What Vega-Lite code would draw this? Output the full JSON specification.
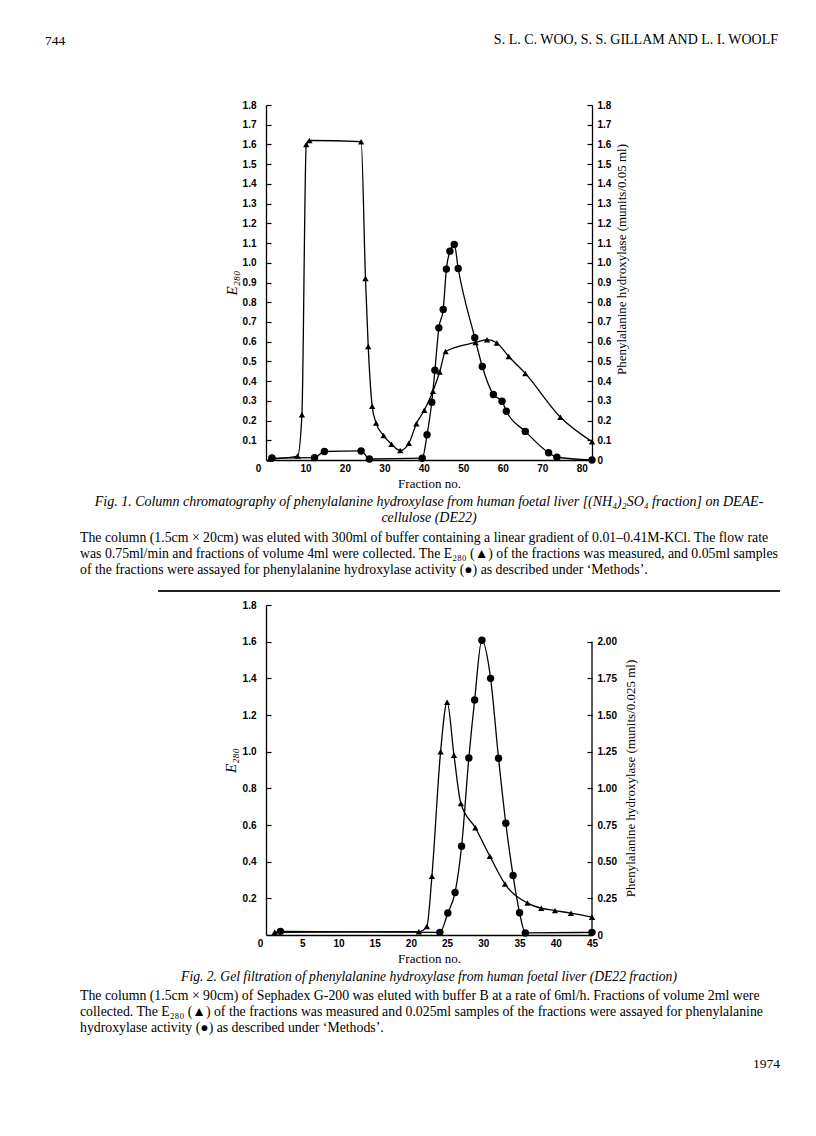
{
  "$schema": "https://vega.github.io/schema/vega-lite/v6.json",
  "background": "white",
  "padding": {"left": 45, "top": 33, "right": 10, "bottom": 10},
  "autosize": {"type": "pad"},
  "title": {"text": "744", "anchor": "start", "frame": "group", "dx": -221, "dy": 14, "offset": 0, "fontSize": 13.5, "baseline": "top"},
  "datasets": {
    "f1e": [
      {"fraction": 1, "e280": 0.005},
      {"fraction": 8, "e280": 0.02},
      {"fraction": 9.1, "e280": 0.23},
      {"fraction": 10.2, "e280": 1.6},
      {"fraction": 11, "e280": 1.62},
      {"fraction": 24.1, "e280": 1.614},
      {"fraction": 25.2, "e280": 0.92},
      {"fraction": 25.9, "e280": 0.576},
      {"fraction": 26.9, "e280": 0.273},
      {"fraction": 27.9, "e280": 0.187},
      {"fraction": 29.8, "e280": 0.124},
      {"fraction": 31.8, "e280": 0.08},
      {"fraction": 34, "e280": 0.048},
      {"fraction": 36.2, "e280": 0.085},
      {"fraction": 38.1, "e280": 0.184},
      {"fraction": 40.1, "e280": 0.252},
      {"fraction": 42.3, "e280": 0.349},
      {"fraction": 44, "e280": 0.446},
      {"fraction": 45.5, "e280": 0.55},
      {"fraction": 53.1, "e280": 0.596},
      {"fraction": 56, "e280": 0.61},
      {"fraction": 58.5, "e280": 0.593},
      {"fraction": 61.5, "e280": 0.525},
      {"fraction": 65.7, "e280": 0.439},
      {"fraction": 74.6, "e280": 0.217},
      {"fraction": 82.6, "e280": 0.093}
    ],
    "f1a": [
      {"fraction": 1.5, "activity": 0.01},
      {"fraction": 12.3, "activity": 0.012},
      {"fraction": 14.8, "activity": 0.043},
      {"fraction": 24.1, "activity": 0.046},
      {"fraction": 26.2, "activity": 0.005},
      {"fraction": 39.6, "activity": 0.009},
      {"fraction": 40.8, "activity": 0.128},
      {"fraction": 42, "activity": 0.293},
      {"fraction": 42.8, "activity": 0.455},
      {"fraction": 43.8, "activity": 0.67},
      {"fraction": 44.9, "activity": 0.763},
      {"fraction": 45.7, "activity": 0.968},
      {"fraction": 46.6, "activity": 1.059},
      {"fraction": 47.7, "activity": 1.093},
      {"fraction": 48.7, "activity": 0.971},
      {"fraction": 52.9, "activity": 0.62},
      {"fraction": 54.8, "activity": 0.474},
      {"fraction": 57.6, "activity": 0.332},
      {"fraction": 59.8, "activity": 0.298},
      {"fraction": 60.9, "activity": 0.247},
      {"fraction": 65.7, "activity": 0.145},
      {"fraction": 71.6, "activity": 0.037},
      {"fraction": 73.7, "activity": 0.014},
      {"fraction": 82.6, "activity": 0.0}
    ],
    "f2e": [
      {"fraction": 1.2, "e280": 0.015},
      {"fraction": 21.1, "e280": 0.018},
      {"fraction": 22.2, "e280": 0.046},
      {"fraction": 22.9, "e280": 0.32},
      {"fraction": 24.1, "e280": 1.0},
      {"fraction": 25, "e280": 1.27},
      {"fraction": 25.95, "e280": 0.98},
      {"fraction": 26.9, "e280": 0.717},
      {"fraction": 28.9, "e280": 0.585},
      {"fraction": 30.9, "e280": 0.43},
      {"fraction": 33, "e280": 0.278},
      {"fraction": 36.1, "e280": 0.174},
      {"fraction": 38, "e280": 0.146},
      {"fraction": 39.9, "e280": 0.133},
      {"fraction": 42.1, "e280": 0.119},
      {"fraction": 45, "e280": 0.097}
    ],
    "f2a": [
      {"fraction": 2, "activity": 0.025},
      {"fraction": 24, "activity": 0.018},
      {"fraction": 25.1, "activity": 0.15},
      {"fraction": 26.1, "activity": 0.29},
      {"fraction": 27, "activity": 0.605},
      {"fraction": 28, "activity": 1.207},
      {"fraction": 28.8, "activity": 1.602},
      {"fraction": 29.8, "activity": 2.01},
      {"fraction": 31, "activity": 1.75},
      {"fraction": 32.1, "activity": 1.205},
      {"fraction": 33.1, "activity": 0.762},
      {"fraction": 34.1, "activity": 0.406},
      {"fraction": 35, "activity": 0.152},
      {"fraction": 35.8, "activity": 0.014},
      {"fraction": 45, "activity": 0.018}
    ]
  },
  "spacing": 14,
  "bounds": "flush",
  "vconcat": [
    {
      "width": 326, "height": 0,
      "data": {"values": []},
      "mark": "point",
      "title": {"text": "S. L. C. WOO, S. S. GILLAM AND L. I. WOOLF", "anchor": "end", "frame": "group", "dx": 186, "offset": 24, "fontSize": 14, "baseline": "top"}
    },
    {
      "width": 326, "height": 355,
      "title": {"text": ["Fig. 1. Column chromatography of phenylalanine hydroxylase from human foetal liver [(NH₄)₂SO₄ fraction] on DEAE-", "cellulose (DE22)"], "orient": "bottom", "anchor": "middle", "frame": "group", "offset": 5, "fontStyle": "italic", "fontSize": 14, "lineHeight": 16, "baseline": "top"},
      "layer": [
        {
          "data": {"name": "f1e"},
          "mark": {"type": "line", "interpolate": "monotone", "color": "black", "strokeWidth": 1.3, "point": {"shape": "triangle-up", "filled": true, "size": 40, "color": "black"}},
          "encoding": {
            "x": {"field": "fraction", "type": "quantitative", "scale": {"domain": [0, 82.6], "nice": false, "zero": false},
              "axis": {"values": [0, 10, 20, 30, 40, 50, 60, 70, 80], "ticks": false, "labelPadding": 3, "title": "Fraction no.", "titlePadding": 4, "labelOffset": {"condition": {"test": "datum.value === 0", "value": -8}, "value": 0}}},
            "y": {"field": "e280", "type": "quantitative", "scale": {"domain": [0, 1.8], "nice": false},
              "axis": {"orient": "left", "values": [0.1, 0.2, 0.3, 0.4, 0.5, 0.6, 0.7, 0.8, 0.9, 1.0, 1.1, 1.2, 1.3, 1.4, 1.5, 1.6, 1.7, 1.8], "format": ".1f", "tickSize": -5, "labelPadding": 15, "title": "E₂₈₀", "titleFontStyle": "italic", "titleFontSize": 15, "titlePadding": 3}}
          }
        },
        {
          "data": {"name": "f1a"},
          "mark": {"type": "line", "interpolate": "monotone", "color": "black", "strokeWidth": 1.3, "point": {"shape": "circle", "filled": true, "size": 55, "color": "black", "opacity": 1}},
          "encoding": {
            "x": {"field": "fraction", "type": "quantitative", "scale": {"domain": [0, 82.6], "nice": false, "zero": false},
              "axis": {"values": [0, 10, 20, 30, 40, 50, 60, 70, 80], "ticks": false, "labelPadding": 3, "title": "Fraction no.", "titlePadding": 4, "labelOffset": {"condition": {"test": "datum.value === 0", "value": -8}, "value": 0}}},
            "y": {"field": "activity", "type": "quantitative", "scale": {"domain": [0, 1.8], "nice": false},
              "axis": {"orient": "right", "values": [0, 0.1, 0.2, 0.3, 0.4, 0.5, 0.6, 0.7, 0.8, 0.9, 1.0, 1.1, 1.2, 1.3, 1.4, 1.5, 1.6, 1.7, 1.8], "labelExpr": "datum.value === 0 ? '0' : format(datum.value, '.1f')", "tickSize": -5, "labelPadding": 10, "title": "Phenylalanine hydroxylase (munits/0.05 ml)", "titleAngle": 270, "titleBaseline": "top", "titlePadding": 5, "titleY": 154}}
          }
        }
      ],
      "resolve": {"scale": {"y": "independent"}}
    },
    {
      "width": 326, "height": 57,
      "data": {"values": []},
      "mark": "point",
      "title": {"text": ["The column (1.5cm × 20cm) was eluted with 300ml of buffer containing a linear gradient of 0.01–0.41M-KCl. The flow rate", "was 0.75ml/min and fractions of volume 4ml were collected. The E₂₈₀ (▲) of the fractions was measured, and 0.05ml samples", "of the fractions were assayed for phenylalanine hydroxylase activity (●) as described under ‘Methods’."], "orient": "bottom", "anchor": "start", "align": "left", "frame": "group", "dx": -186, "offset": 0, "fontSize": 13.8, "lineHeight": 16, "baseline": "top"}
    },
    {
      "width": 326, "height": 46,
      "data": {"values": [{}]},
      "mark": {"type": "rule", "color": "#222222", "strokeWidth": 2},
      "encoding": {
        "x": {"datum": -0.331, "type": "quantitative", "scale": {"domain": [0, 1], "nice": false, "zero": false}, "axis": null},
        "x2": {"datum": 1.577},
        "y": {"datum": 0, "type": "quantitative", "scale": {"domain": [0, 1], "nice": false}, "axis": null}
      }
    },
    {
      "width": 326, "height": 330,
      "title": {"text": "Fig. 2. Gel filtration of phenylalanine hydroxylase from human foetal liver (DE22 fraction)", "orient": "bottom", "anchor": "middle", "frame": "group", "offset": 5, "fontStyle": "italic", "fontSize": 13.6, "baseline": "top"},
      "layer": [
        {
          "data": {"name": "f2e"},
          "mark": {"type": "line", "interpolate": "monotone", "color": "black", "strokeWidth": 1.3, "point": {"shape": "triangle-up", "filled": true, "size": 40, "color": "black"}},
          "encoding": {
            "x": {"field": "fraction", "type": "quantitative", "scale": {"domain": [0, 45], "nice": false, "zero": false},
              "axis": {"values": [0, 5, 10, 15, 20, 25, 30, 35, 40, 45], "ticks": false, "labelPadding": 3, "title": "Fraction no.", "titlePadding": 4, "labelOffset": {"condition": {"test": "datum.value === 0", "value": -6}, "value": 0}}},
            "y": {"field": "e280", "type": "quantitative", "scale": {"domain": [0, 1.8], "nice": false},
              "axis": {"orient": "left", "values": [0.2, 0.4, 0.6, 0.8, 1.0, 1.2, 1.4, 1.6, 1.8], "format": ".1f", "tickSize": -5, "labelPadding": 15, "title": "E₂₈₀", "titleFontStyle": "italic", "titleFontSize": 15, "titlePadding": 4, "titleY": 155}}
          }
        },
        {
          "layer": [
            {
              "data": {"name": "f2a"},
              "mark": {"type": "line", "interpolate": "monotone", "color": "black", "strokeWidth": 1.3, "point": {"shape": "circle", "filled": true, "size": 55, "color": "black", "opacity": 1}},
              "encoding": {
                "x": {"field": "fraction", "type": "quantitative", "scale": {"domain": [0, 45], "nice": false, "zero": false},
                  "axis": {"values": [0, 5, 10, 15, 20, 25, 30, 35, 40, 45], "ticks": false, "labelPadding": 3, "title": "Fraction no.", "titlePadding": 4, "labelOffset": {"condition": {"test": "datum.value === 0", "value": -6}, "value": 0}}},
                "y": {"field": "activity", "type": "quantitative", "scale": {"domain": [0, 2.25], "nice": false},
                  "axis": {"orient": "right", "values": [0, 0.25, 0.5, 0.75, 1.0, 1.25, 1.5, 1.75, 2.0], "labelExpr": "datum.value === 0 ? '0' : format(datum.value, '.2f')", "tickSize": -5, "labelPadding": 10, "domain": false, "title": "Phenylalanine hydroxylase (munits/0.025 ml)", "titleAngle": 270, "titleBaseline": "top", "titlePadding": 8, "titleY": 173}}
              }
            },
            {
              "data": {"values": [{}]},
              "mark": {"type": "rule", "color": "black", "strokeWidth": 1.3},
              "encoding": {
                "x": {"datum": 45, "type": "quantitative", "scale": {"domain": [0, 45], "nice": false, "zero": false},
                  "axis": {"values": [0, 5, 10, 15, 20, 25, 30, 35, 40, 45], "ticks": false, "labelPadding": 3, "title": "Fraction no.", "titlePadding": 4, "labelOffset": {"condition": {"test": "datum.value === 0", "value": -6}, "value": 0}}},
                "y": {"datum": 0, "type": "quantitative", "scale": {"domain": [0, 2.25], "nice": false},
                  "axis": {"orient": "right", "values": [0, 0.25, 0.5, 0.75, 1.0, 1.25, 1.5, 1.75, 2.0], "labelExpr": "datum.value === 0 ? '0' : format(datum.value, '.2f')", "tickSize": -5, "labelPadding": 10, "domain": false, "title": "Phenylalanine hydroxylase (munits/0.025 ml)", "titleAngle": 270, "titleBaseline": "top", "titlePadding": 8, "titleY": 173}},
                "y2": {"datum": 2.0}
              }
            }
          ]
        }
      ],
      "resolve": {"scale": {"y": "independent"}}
    },
    {
      "width": 326, "height": 40,
      "data": {"values": []},
      "mark": "point",
      "title": {"text": ["The column (1.5cm × 90cm) of Sephadex G-200 was eluted with buffer B at a rate of 6ml/h. Fractions of volume 2ml were", "collected. The E₂₈₀ (▲) of the fractions was measured and 0.025ml samples of the fractions were assayed for phenylalanine", "hydroxylase activity (●) as described under ‘Methods’."], "orient": "bottom", "anchor": "start", "align": "left", "frame": "group", "dx": -186, "offset": 0, "fontSize": 13.8, "lineHeight": 16, "baseline": "top"}
    },
    {
      "width": 326, "height": 54,
      "data": {"values": []},
      "mark": "point",
      "title": {"text": "1974", "orient": "bottom", "anchor": "end", "frame": "group", "dx": 188, "offset": 0, "fontSize": 13.5, "baseline": "top"}
    }
  ],
  "config": {
    "view": {"stroke": null},
    "axis": {"domainColor": "black", "domainWidth": 1.3, "tickColor": "black", "tickWidth": 1.2, "labelColor": "black", "titleColor": "black", "grid": false, "labelFont": "Liberation Sans", "labelFontWeight": "bold", "labelFontSize": 10, "titleFont": "Liberation Serif", "titleFontWeight": "normal", "titleFontSize": 13, "labelFlush": false, "labelOverlap": false},
    "title": {"font": "Liberation Serif", "fontWeight": "normal", "color": "black", "subtitleColor": "black"}
  }
}
